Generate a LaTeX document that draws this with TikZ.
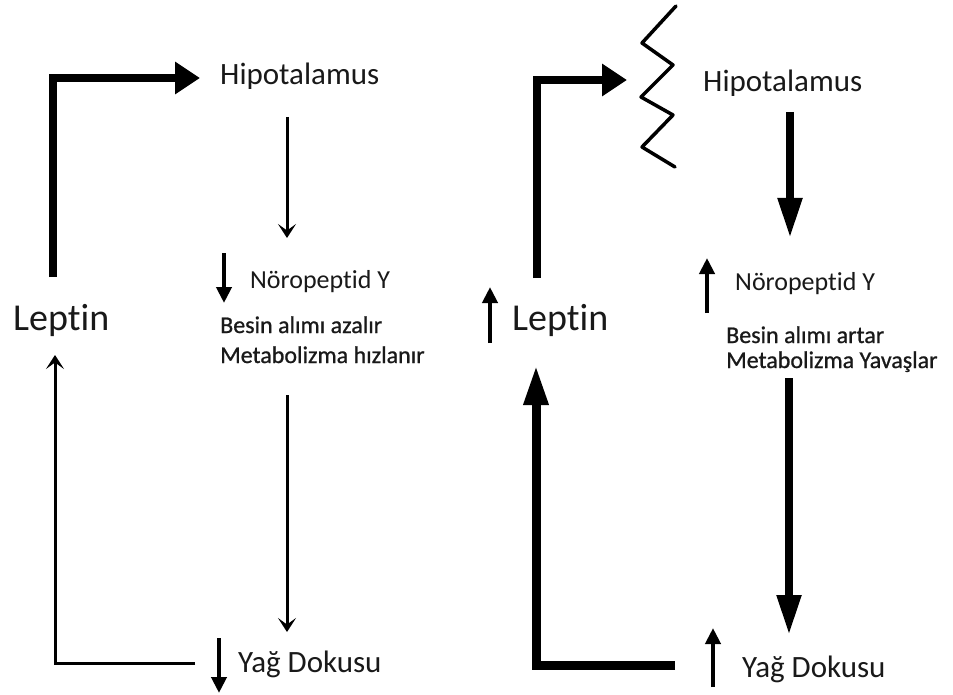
\documentclass[tikz,border=0pt]{standalone}
\usepackage{fontspec}
\setmainfont{Carlito}[Ligatures=NoCommon]
\newfontfamily\heavyfont{Carlito}[Ligatures=NoCommon,FakeBold=0.8]
\usetikzlibrary{arrows.meta}
\begin{document}
\begin{tikzpicture}[x=1pt,y=-1pt,
  lbl/.style={anchor=base west, inner sep=0pt, text=black!90},
  big/.style={font=\fontsize{31}{37}\selectfont},
  huge/.style={font=\fontsize{38}{44}\selectfont},
  mid/.style={font=\fontsize{26}{31}\selectfont},
  sml/.style={font=\heavyfont\fontsize{24}{28}\selectfont},
  bentarrow/.style={line width=8pt, -{Triangle[length=25pt,width=31pt]}},
  thinarrow/.style={line width=3pt, -{Stealth[length=14pt,width=18pt,inset=6.5pt]}},
  boldarrow/.style={line width=8pt, -{Triangle[length=40pt,width=23pt]}},
  smallarrow/.style={line width=4pt, -{Triangle[length=16pt,width=15pt]}}
]
\useasboundingbox (0,0) rectangle (953,695);
\fill[white] (0,0) rectangle (953,695);

% ---------- left panel ----------
\node[lbl,big]  (hipL) at (220,85)  {Hipotalamus};
\node[lbl,huge] (lepL) at (13,330)  {Leptin};
\node[lbl,mid]  (npyL) at (250,288) {Nöropeptid Y};
\node[lbl,sml]  (besL) at (220,333) {Besin alımı azalır};
\node[lbl,sml]  (metL) at (220,363) {Metabolizma hızlanır};
\node[lbl,big]  (yagL) at (238,672) {Yağ Dokusu};

\coordinate (lepLout) at (53,277);
\coordinate (lepLcorner) at (53,78);
\coordinate (hipLin) at (200,78);
\coordinate (hipLout) at (287,117);
\coordinate (npyLin) at (287,238);
\coordinate (metLout) at (287,395);
\coordinate (yagLin) at (287,632);
\coordinate (yagLout) at (195,663);
\coordinate (yagLcorner) at (55,663);
\coordinate (lepLin) at (55,355);
\coordinate (npyLa) at (224,253);
\coordinate (npyLb) at (224,303);
\coordinate (yagLa) at (219,638);
\coordinate (yagLb) at (219,693);

\draw[bentarrow] (lepLout) -- (lepLcorner) -- (hipLin);
\draw[thinarrow] (hipLout) -- (npyLin);
\draw[thinarrow] (metLout) -- (yagLin);
\draw[thinarrow] (yagLout) -- (yagLcorner) -- (lepLin);
\draw[smallarrow] (npyLa) -- (npyLb);
\draw[smallarrow] (yagLa) -- (yagLb);

% ---------- right panel ----------
\node[lbl,big]  (hipR) at (703,92)  {Hipotalamus};
\node[lbl,huge] (lepR) at (512,330) {Leptin};
\node[lbl,mid]  (npyR) at (735,290) {Nöropeptid Y};
\node[lbl,sml]  (besR) at (726,343) {Besin alımı artar};
\node[lbl,sml]  (metR) at (726,368) {Metabolizma Yavaşlar};
\node[lbl,big]  (yagR) at (742,677) {Yağ Dokusu};

\coordinate (lepRout) at (537,278);
\coordinate (lepRcorner) at (537,80);
\coordinate (hipRin) at (627,80);
\coordinate (hipRout) at (790,112);
\coordinate (npyRin) at (790,238);
\coordinate (metRout) at (789,378);
\coordinate (yagRin) at (789,635);
\coordinate (yagRout) at (675,665);
\coordinate (yagRcorner) at (536,665);
\coordinate (lepRin) at (536,365);
\coordinate (lepRa) at (490,343);
\coordinate (lepRb) at (490,287);
\coordinate (npyRa) at (707,313);
\coordinate (npyRb) at (707,258);
\coordinate (yagRa) at (713,687);
\coordinate (yagRb) at (713,628);

\draw[bentarrow] (lepRout) -- (lepRcorner) -- (hipRin);
\draw[line width=3.5pt, line join=round, line cap=round]
  (676,6) -- (642,43) -- (673,65) -- (641,97) -- (673,115) -- (642,147) -- (675,167);
\draw[boldarrow] (hipRout) -- (npyRin);
\draw[boldarrow] (metRout) -- (yagRin);
\draw[line width=9pt, -{Triangle[length=40pt,width=23pt]}] (yagRout) -- (yagRcorner) -- (lepRin);
\draw[smallarrow] (lepRa) -- (lepRb);
\draw[smallarrow] (npyRa) -- (npyRb);
\draw[smallarrow] (yagRa) -- (yagRb);
\end{tikzpicture}
\end{document}
